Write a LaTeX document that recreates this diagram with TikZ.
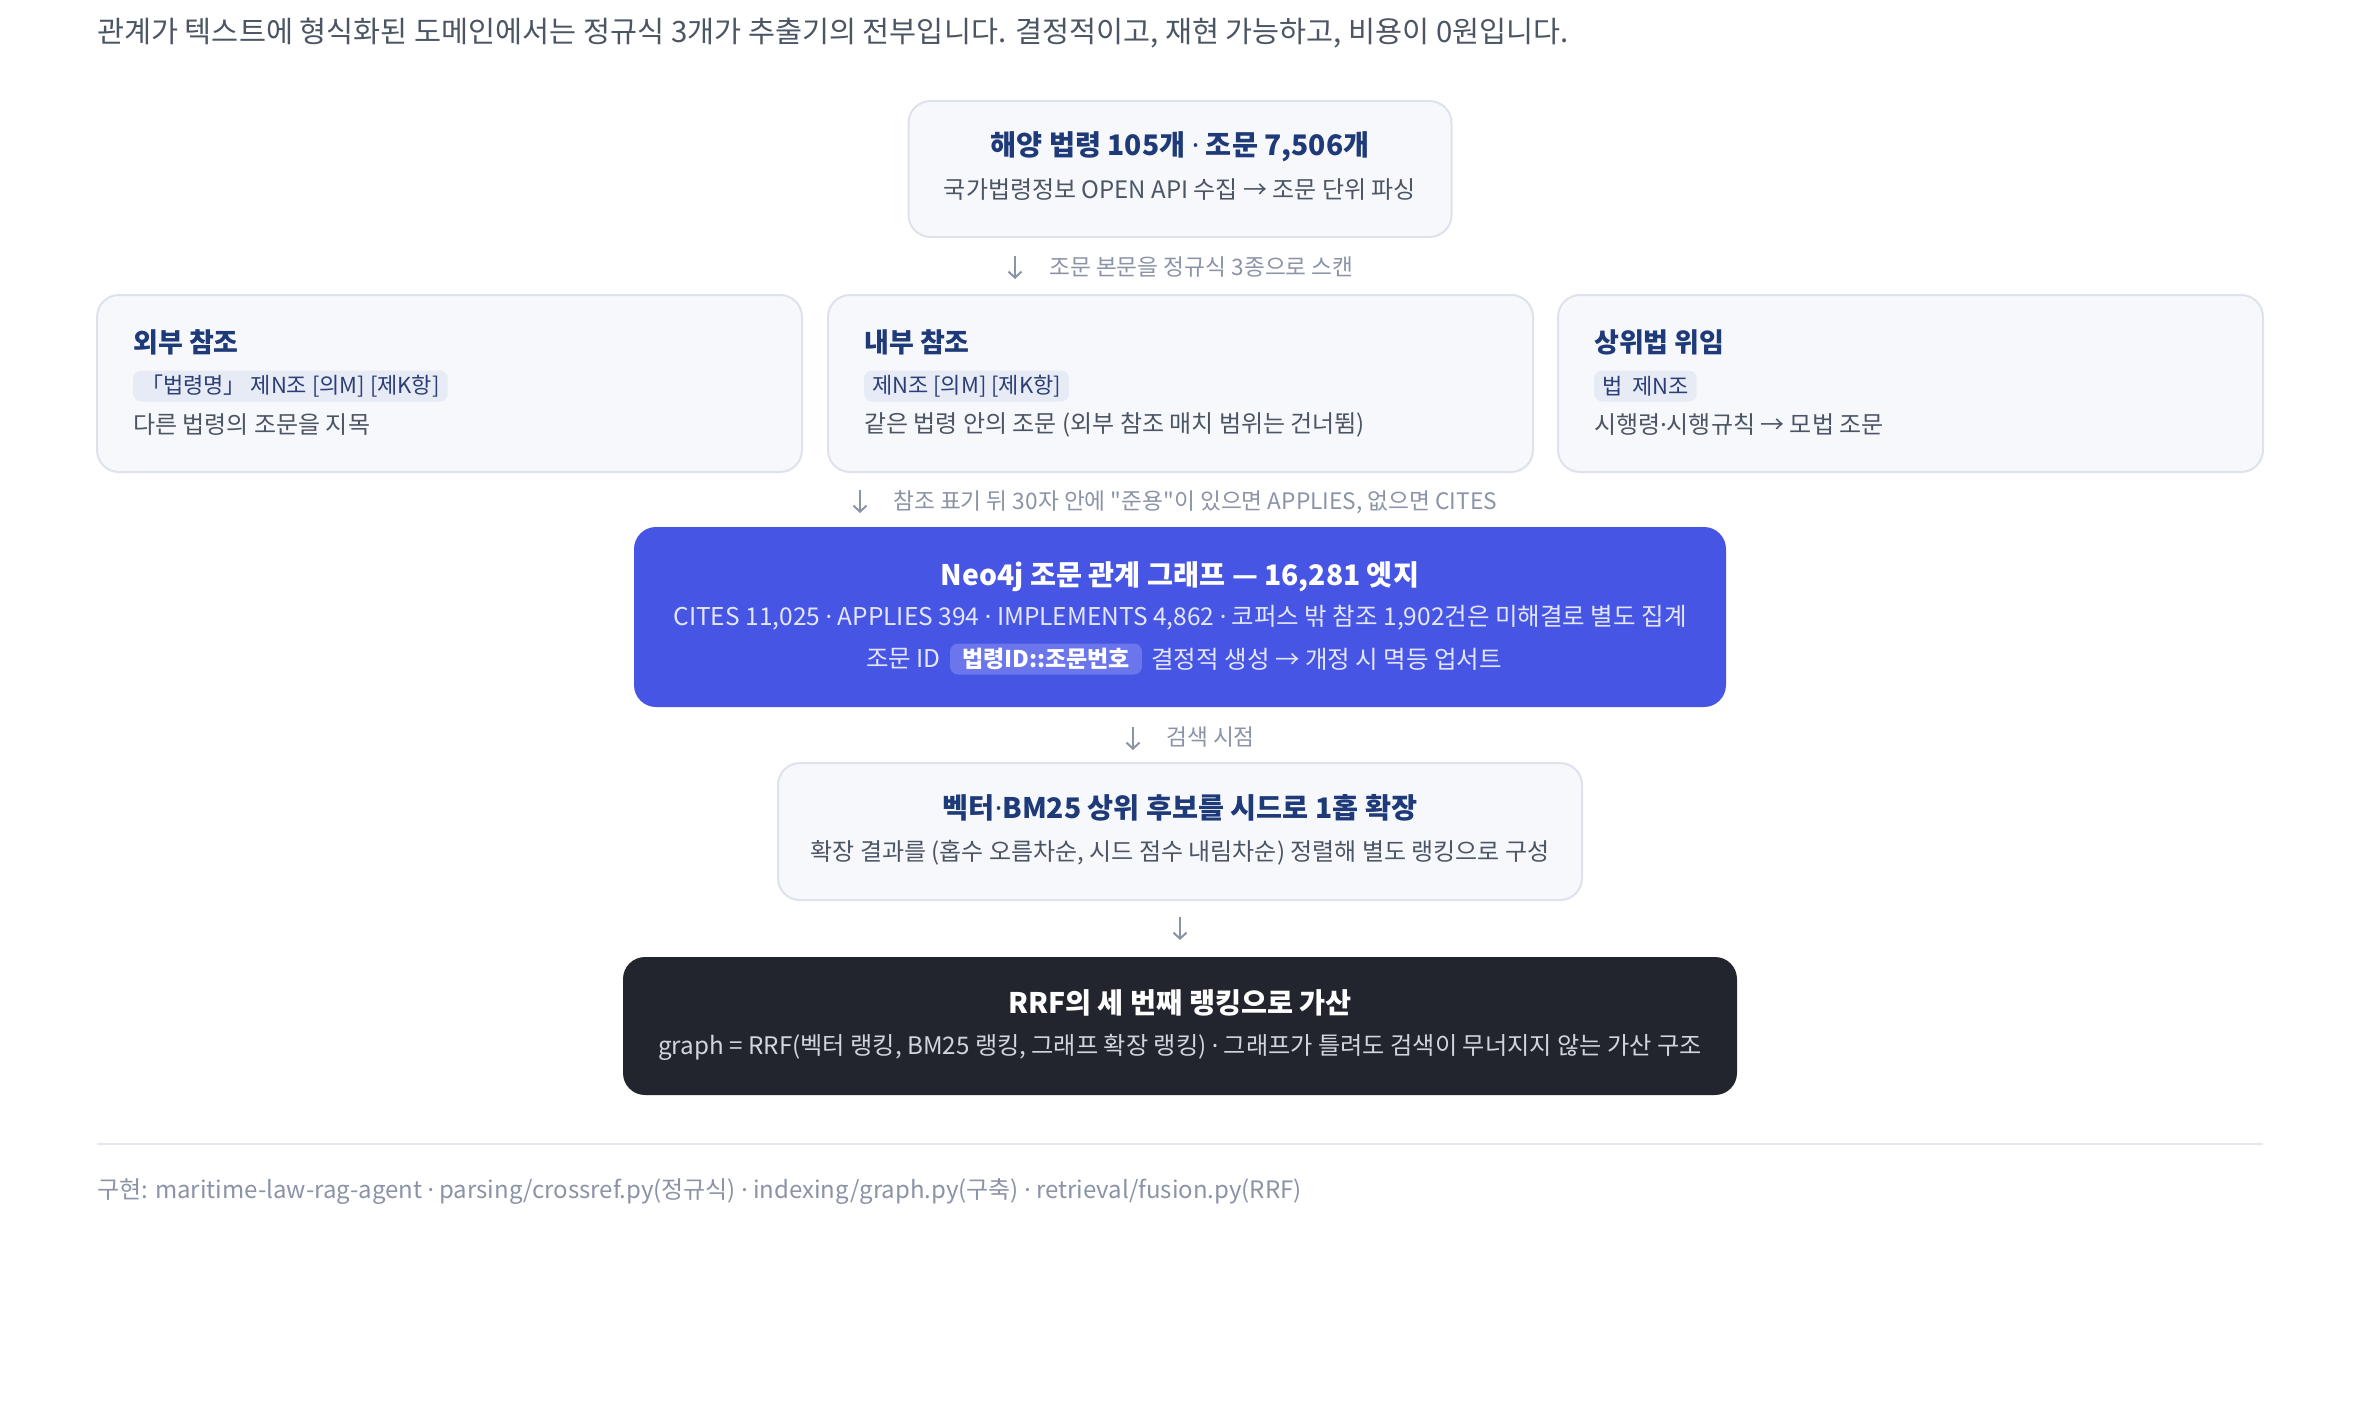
\documentclass[tikz,border=0pt]{standalone}
\usepackage{fontspec}
\setmainfont{Noto Sans CJK KR}[Ligatures=TeXOff]
\newfontfamily\dotfont{Noto Sans}
\usetikzlibrary{arrows.meta,positioning}

\definecolor{navy}{HTML}{1E3A78}
\definecolor{bodygray}{HTML}{4B5563}
\definecolor{labelgray}{HTML}{8B93A7}
\definecolor{cardfill}{HTML}{F7F8FC}
\definecolor{cardline}{HTML}{DEE2EC}
\definecolor{chipfill}{HTML}{E6EBF5}
\definecolor{chiptext}{HTML}{2C3E75}
\definecolor{graphblue}{HTML}{4755E4}
\definecolor{bluetext}{HTML}{E3E6FF}
\definecolor{bluechip}{HTML}{6B76EC}
\definecolor{rrfdark}{HTML}{22252E}
\definecolor{darksub}{HTML}{D1D5DD}
\definecolor{footline}{HTML}{E5E8EE}

\newcommand{\fsz}[1]{\fontsize{#1}{#1}\selectfont}
\newcommand{\md}{{\dotfont ·}}

\begin{document}
\begin{tikzpicture}[x=1pt,y=-1pt,
  card/.style={draw=cardline,fill=cardfill,line width=2pt,rounded corners=22pt,inner sep=0pt},
  txt/.style={inner sep=0pt,text=bodygray,font=\fsz{24}},
  ttl/.style={inner sep=0pt,text=navy,font=\fsz{28.3}\bfseries},
  lbl/.style={inner sep=0pt,anchor=west,text=labelgray,font=\fsz{22.7}},
  chip/.style={fill=chipfill,rounded corners=8pt,inner xsep=8pt,inner ysep=0pt,minimum height=31pt,text=chiptext,font=\fsz{22}},
  arr/.style={draw=labelgray,line width=2pt,-{Straight Barb[length=6pt,width=13pt]}}]
\useasboundingbox[fill=white] (0,0) rectangle (2360,1400);

\node[txt,anchor=west,font=\fsz{29.4}] (intro) at (97,33) {관계가 텍스트에 형식화된 도메인에서는 정규식 3개가 추출기의 전부입니다. 결정적이고, 재현 가능하고, 비용이 0원입니다.};

\node[card,minimum width=543,minimum height=136] (src) at (1180,169) {};
\node[ttl] (srct) at (1180,147) {해양 법령 105개 \md{} 조문 7,506개};
\node[txt] (srcs) at (1180,190) {국가법령정보 OPEN API 수집 → 조문 단위 파싱};

\coordinate (a1s) at (1015,256);
\coordinate (a1e) at (1015,279);
\draw[arr] (a1s) -- (a1e);
\node[lbl] (scan) at (1049,267) {조문 본문을 정규식 3종으로 스캔};

\node[card,minimum width=705,minimum height=177] (ext) at (449.5,383.5) {};
\node[ttl,anchor=west,font=\fsz{27}\bfseries] (extt) at (133,342) {외부 참조};
\node[chip,anchor=west] (extc) at (133,386) {「법령명」 제N조 [의M] [제K항]};
\node[txt,anchor=west] (extd) at (133,425) {다른 법령의 조문을 지목};

\node[card,minimum width=705,minimum height=177] (int) at (1180.5,383.5) {};
\node[ttl,anchor=west,font=\fsz{27}\bfseries] (intt) at (864,342) {내부 참조};
\node[chip,anchor=west] (intc) at (864,386) {제N조 [의M] [제K항]};
\node[txt,anchor=west] (intd) at (864,425) {같은 법령 안의 조문 (외부 참조 매치 범위는 건너뜀)};

\node[card,minimum width=705,minimum height=177] (up) at (1910.5,383.5) {};
\node[ttl,anchor=west,font=\fsz{27}\bfseries] (upt) at (1594,342) {상위법 위임};
\node[chip,anchor=west] (upc) at (1594,386) {법\ \ 제N조};
\node[txt,anchor=west] (upd) at (1594,425) {시행령\md 시행규칙 → 모법 조문};

\coordinate (a2s) at (860,490);
\coordinate (a2e) at (860,513);
\draw[arr] (a2s) -- (a2e);
\node[lbl] (rule) at (893,502) {참조 표기 뒤 30자 안에 "준용"이 있으면 APPLIES, 없으면 CITES};

\node[fill=graphblue,rounded corners=22pt,minimum width=1092,minimum height=180,inner sep=0pt] (graph) at (1180,617) {};
\node[inner sep=0pt,text=white,font=\fsz{28.3}\bfseries] (grapht) at (1180,577) {Neo4j 조문 관계 그래프 — 16,281 엣지};
\node[inner sep=0pt,text=bluetext,font=\fsz{24.5}] (graphs) at (1180,618) {CITES 11,025 \md{} APPLIES 394 \md{} IMPLEMENTS 4,862 \md{} 코퍼스 밖 참조 1,902건은 미해결로 별도 집계};
\node[chip,fill=bluechip,text=white,font=\fsz{23}\bfseries,inner xsep=12pt] (idchip) at (1046,659) {법령ID::조문번호};
\node[inner sep=0pt,text=bluetext,font=\fsz{24.5},left=9pt of idchip] (idl) {조문 ID};
\node[inner sep=0pt,text=bluetext,font=\fsz{24.5},right=9pt of idchip] (idr) {결정적 생성 → 개정 시 멱등 업서트};

\coordinate (a3s) at (1133,727);
\coordinate (a3e) at (1133,750);
\draw[arr] (a3s) -- (a3e);
\node[lbl] (when) at (1166,737) {검색 시점};

\node[card,minimum width=804,minimum height=137] (hop) at (1180,831.5) {};
\node[ttl] (hopt) at (1180,808) {벡터\md BM25 상위 후보를 시드로 1홉 확장};
\node[txt] (hops) at (1180,853) {확장 결과를 (홉수 오름차순, 시드 점수 내림차순) 정렬해 별도 랭킹으로 구성};

\coordinate (a4s) at (1180,917);
\coordinate (a4e) at (1180,940);
\draw[arr] (a4s) -- (a4e);

\node[fill=rrfdark,rounded corners=22pt,minimum width=1114,minimum height=138,inner sep=0pt] (rrf) at (1180,1026) {};
\node[inner sep=0pt,text=white,font=\fsz{28.3}\bfseries] (rrft) at (1180,1003) {RRF의 세 번째 랭킹으로 가산};
\node[inner sep=0pt,text=darksub,font=\fsz{24.2}] (rrfs) at (1180,1047) {graph = RRF(벡터 랭킹, BM25 랭킹, 그래프 확장 랭킹) \md{} 그래프가 틀려도 검색이 무너지지 않는 가산 구조};

\coordinate (f1) at (97,1144);
\coordinate (f2) at (2263,1144);
\draw[footline,line width=2pt] (f1) -- (f2);
\node[lbl,font=\fsz{24}] (foot) at (97,1192) {구현: maritime-law-rag-agent \md{} parsing/crossref.py(정규식) \md{} indexing/graph.py(구축) \md{} retrieval/fusion.py(RRF)};
\end{tikzpicture}
\end{document}
